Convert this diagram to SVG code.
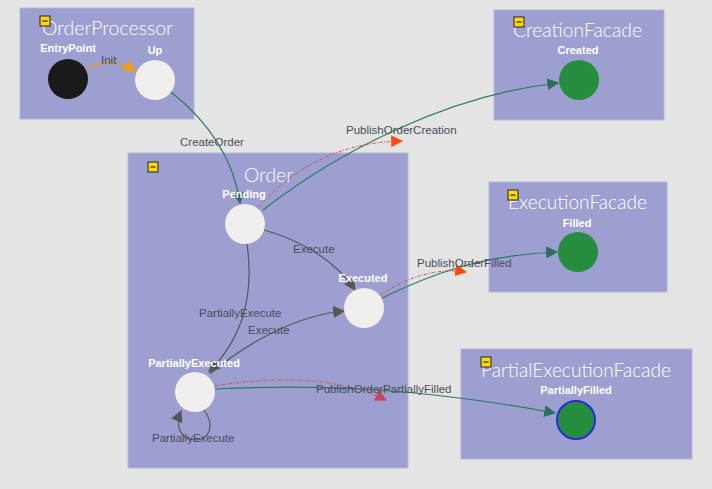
<svg xmlns="http://www.w3.org/2000/svg" width="712" height="489" viewBox="0 0 712 489">
<style>
.box{fill:#9d9fd0;stroke:#b4b5da;stroke-width:1}
.title{font-family:Lato,"Liberation Sans",Arial,sans-serif;font-size:19px;fill:#ffffff;font-weight:300}
.nlabel{font-family:"Liberation Sans",Arial,sans-serif;font-size:11px;font-weight:bold;fill:#ffffff;text-anchor:middle}
.elabel{font-family:"Liberation Sans",Arial,sans-serif;font-size:11.5px;fill:#4a4a5a}
.icon{fill:#ffd800;stroke:#222;stroke-width:1}
.state{fill:#f1eeee}
.final{fill:#248e3e}
.e-gray{fill:none;stroke:#555;stroke-width:1.2}
.e-green{fill:none;stroke:#2b7a5c;stroke-width:1.2}
.e-dot{fill:none;stroke:#d0504a;stroke-width:1;stroke-dasharray:3 1.5 1 1.5}
.e-init{fill:none;stroke:#f0a000;stroke-width:1.2}
</style>
<defs>
<marker id="aGray" viewBox="0 0 10 10" refX="9" refY="5" markerWidth="12" markerHeight="12" markerUnits="userSpaceOnUse" orient="auto"><path d="M0,0 L10,5 L0,10 z" fill="#555"/></marker>
<marker id="aGreen" viewBox="0 0 10 10" refX="9" refY="5" markerWidth="12" markerHeight="12" markerUnits="userSpaceOnUse" orient="auto"><path d="M0,0 L10,5 L0,10 z" fill="#2e6e62"/></marker>
<marker id="aOrange" viewBox="0 0 10 10" refX="9" refY="5" markerWidth="12" markerHeight="12" markerUnits="userSpaceOnUse" orient="auto"><path d="M0,0 L10,5 L0,10 z" fill="#ff4a10"/></marker>
<marker id="aRed" viewBox="0 0 10 10" refX="9" refY="5" markerWidth="12" markerHeight="12" markerUnits="userSpaceOnUse" orient="auto"><path d="M0,0 L10,5 L0,10 z" fill="#c04a5a"/></marker>
<marker id="aInit" viewBox="0 0 10 10" refX="9" refY="5" markerWidth="12" markerHeight="12" markerUnits="userSpaceOnUse" orient="auto"><path d="M0,0 L10,5 L0,10 z" fill="#f0a000"/></marker>
</defs>
<rect x="0" y="0" width="712" height="489" fill="#e4e4e4"/>

<g id="OrderProcessor">
<rect class="box" x="20" y="8" width="174" height="111"/>
<text class="title" x="42" y="35" textLength="131" lengthAdjust="spacingAndGlyphs">OrderProcessor</text>
<rect class="icon" x="40" y="16" width="10" height="10"/><line x1="42.5" y1="21" x2="47.5" y2="21" stroke="#222" stroke-width="1.2"/>
</g>
<g id="Order">
<rect class="box" x="128" y="153" width="280" height="315"/>
<text class="title" x="244" y="182" textLength="49" lengthAdjust="spacingAndGlyphs">Order</text>
<rect class="icon" x="148" y="162" width="10" height="10"/><line x1="150.5" y1="167" x2="155.5" y2="167" stroke="#222" stroke-width="1.2"/>
</g>
<g id="CreationFacade">
<rect class="box" x="494" y="10" width="170" height="110"/>
<text class="title" x="513" y="37" textLength="129" lengthAdjust="spacingAndGlyphs">CreationFacade</text>
<rect class="icon" x="514" y="17" width="10" height="10"/><line x1="516.5" y1="22" x2="521.5" y2="22" stroke="#222" stroke-width="1.2"/>
</g>
<g id="ExecutionFacade">
<rect class="box" x="489" y="182" width="178" height="110"/>
<text class="title" x="508" y="209" textLength="139" lengthAdjust="spacingAndGlyphs">ExecutionFacade</text>
<rect class="icon" x="508" y="190" width="10" height="10"/><line x1="510.5" y1="195" x2="515.5" y2="195" stroke="#222" stroke-width="1.2"/>
</g>
<g id="PartialExecutionFacade">
<rect class="box" x="461" y="349" width="231" height="110"/>
<text class="title" x="481" y="377" textLength="190" lengthAdjust="spacingAndGlyphs">PartialExecutionFacade</text>
<rect class="icon" x="481" y="357" width="10" height="10"/><line x1="483.5" y1="362" x2="488.5" y2="362" stroke="#222" stroke-width="1.2"/>
</g>

<g id="connectors">
<path class="e-init" d="M86,69 Q111,56 135,71" marker-end="url(#aInit)"/>
<path class="e-green" d="M171,92 C200,115 232,150 240,203" marker-end="url(#aGreen)"/>
<path class="e-green" d="M263,210 C340,150 450,95 558,83" marker-end="url(#aGreen)"/>
<path class="e-dot" d="M259,207 C300,160 350,142 402,141" marker-end="url(#aOrange)"/>
<path class="e-gray" d="M264,230 C300,240 335,260 355,290" marker-end="url(#aGray)"/>
<path class="e-gray" d="M247,244 C255,300 240,340 209,372" marker-end="url(#aGray)"/>
<path class="e-gray" d="M210,374 C250,340 300,315 344,311" marker-end="url(#aGray)"/>
<path class="e-green" d="M382,298 C430,275 480,255 557,252" marker-end="url(#aGreen)"/>
<path class="e-dot" d="M380,295 C410,275 440,268 466,272" marker-end="url(#aOrange)"/>
<path class="e-green" d="M215,389 C320,384 420,388 555,413" marker-end="url(#aGreen)"/>
<path class="e-dot" d="M215,386 C280,375 340,378 386,400" marker-end="url(#aRed)"/>
<path class="e-gray" d="M204,410 C215,425 210,440 195,440 C180,440 175,425 181,411" marker-end="url(#aGray)"/>
<text class="elabel" x="101" y="64">Init</text>
<text class="elabel" x="180" y="146">CreateOrder</text>
<text class="elabel" x="346" y="134">PublishOrderCreation</text>
<text class="elabel" x="293" y="253">Execute</text>
<text class="elabel" x="199" y="317">PartiallyExecute</text>
<text class="elabel" x="248" y="334">Execute</text>
<text class="elabel" x="417" y="267">PublishOrderFilled</text>
<text class="elabel" x="316" y="393">PublishOrderPartiallyFilled</text>
<text class="elabel" x="152" y="442">PartiallyExecute</text>
</g>

<g id="EntryPoint"><circle cx="68" cy="79" r="20" fill="#1a1a1a"/><text class="nlabel" x="68" y="52">EntryPoint</text></g>
<g id="Up"><circle class="state" cx="155" cy="80" r="20"/><text class="nlabel" x="155" y="54">Up</text></g>
<g id="Pending"><circle class="state" cx="245" cy="224" r="20"/><text class="nlabel" x="244" y="198">Pending</text></g>
<g id="Executed"><circle class="state" cx="364" cy="308" r="20"/><text class="nlabel" x="363" y="282">Executed</text></g>
<g id="PartiallyExecuted"><circle class="state" cx="195" cy="392" r="20"/><text class="nlabel" x="194" y="367">PartiallyExecuted</text></g>
<g id="Created"><circle class="final" cx="579" cy="80" r="20"/><text class="nlabel" x="578" y="54">Created</text></g>
<g id="Filled"><circle class="final" cx="578" cy="252" r="20"/><text class="nlabel" x="577" y="227">Filled</text></g>
<g id="PartiallyFilled"><circle class="final" cx="576" cy="420" r="19" stroke="#2a2ad8" stroke-width="2"/><text class="nlabel" x="576" y="394">PartiallyFilled</text></g>
</svg>
